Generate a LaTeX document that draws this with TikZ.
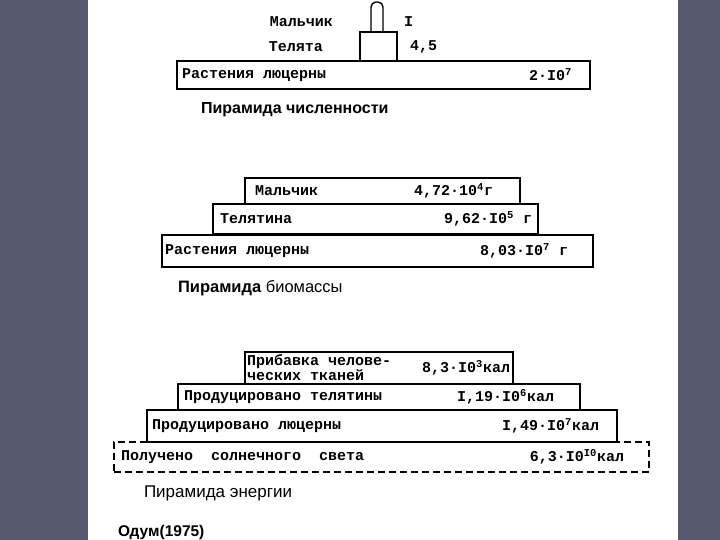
\documentclass[tikz,border=0pt]{standalone}
\usepackage{fontspec}
\setsansfont{Liberation Sans}
\setmonofont{Liberation Mono}
\usetikzlibrary{positioning}
\definecolor{slidebg}{HTML}{565A6E}

\begin{document}
\begin{tikzpicture}[x=1pt,y=-1pt,
  every node/.style={inner sep=0pt,outer sep=0pt},
  layer/.style={draw,line width=1.4pt,anchor=north west},
  tw/.style={font=\fontsize{15}{13}\selectfont\ttfamily\bfseries},
  pcaption/.style={font=\fontsize{16}{18}\selectfont\sffamily,anchor=west}]
\useasboundingbox (0,0) rectangle (720,540);
\fill[slidebg] (0,0) rectangle (720,540);
\fill[white] (88,0) rectangle (678,540);

% pyramid of numbers
\node[minimum width=12pt,minimum height=30pt,anchor=north west] (nboy) at (371,2) {};
\draw[line width=1.4pt,rounded corners=5pt] (nboy.south west) -- (nboy.north west) -- (nboy.north east) -- (nboy.south east);
\node[layer,minimum width=37pt,minimum height=29pt] (ncalf) at (360,32) {};
\node[layer,minimum width=413pt,minimum height=28pt] (nplant) at (177,61) {};
\node[tw,anchor=east] (nboyl) at (333,22) {Мальчик};
\node[tw,anchor=west] (nboyv) at (404,22) {I};
\node[tw,anchor=east] (ncalfl) at (323,47) {Телята};
\node[tw,anchor=west] (ncalfv) at (410,47) {4,5};
\node[tw,right=5pt of nplant.west] (nplantl) {Растения люцерны};
\node[tw,left=18pt of nplant.east] (nplantv) {2·I0\textsuperscript{7}};
\node[pcaption,font=\fontsize{16}{18}\selectfont\sffamily\bfseries] (ncap) at (201,110) {Пирамида численности};

% pyramid of biomass
\node[layer,minimum width=275pt,minimum height=26pt] (bboy) at (245,178) {};
\node[layer,minimum width=325pt,minimum height=30pt] (bcalf) at (213,204) {};
\node[layer,minimum width=431pt,minimum height=32pt] (bplant) at (162,235) {};
\node[tw,right=10pt of bboy.west] (bboyl) {Мальчик};
\node[tw,left=27pt of bboy.east] (bboyv) {4,72·10\textsuperscript{4}г};
\node[tw,right=7pt of bcalf.west] (bcalfl) {Телятина};
\node[tw,left=6pt of bcalf.east] (bcalfv) {9,62·I0\textsuperscript{5} г};
\node[tw,right=3pt of bplant.west] (bplantl) {Растения люцерны};
\node[tw,left=25pt of bplant.east] (bplantv) {8,03·I0\textsuperscript{7} г};
\node[pcaption,font=\fontsize{16.5}{18}\selectfont\sffamily] (bcap) at (178,288) {\bfseries Пирамида \mdseries биомассы};

% pyramid of energy
\node[layer,dash pattern=on 7pt off 4pt,minimum width=535pt,minimum height=30pt] (esun) at (114,442) {};
\node[layer,minimum width=470pt,minimum height=32pt] (eplant) at (147,410) {};
\node[layer,minimum width=402pt,minimum height=26pt] (ecalf) at (178,384) {};
\node[layer,minimum width=268pt,minimum height=32pt] (eboy) at (245,352) {};
\node[tw,font=\fontsize{15}{12.5}\selectfont\ttfamily\bfseries,align=left,right=2pt of eboy.west] (eboyl) {Прибавка челове-\\ческих тканей};
\node[tw,left=3pt of eboy.east] (eboyv) {8,3·I0\textsuperscript{3}кал};
\node[tw,right=6pt of ecalf.west] (ecalfl) {Продуцировано телятины};
\node[tw,left=26pt of ecalf.east] (ecalfv) {I,19·I0\textsuperscript{6}кал};
\node[tw,right=5pt of eplant.west] (eplantl) {Продуцировано люцерны};
\node[tw,left=18pt of eplant.east] (eplantv) {I,49·I0\textsuperscript{7}кал};
\node[tw,right=7pt of esun.west] (esunl) {Получено~~солнечного~~света};
\node[tw,left=25pt of esun.east] (esunv) {6,3·I0\textsuperscript{I0}кал};
\node[pcaption,font=\fontsize{17}{19}\selectfont\sffamily] (ecap) at (144,493) {Пирамида энергии};

\node[pcaption,font=\fontsize{15.5}{18}\selectfont\sffamily\bfseries] (src) at (118,532) {Одум(1975)};
\end{tikzpicture}
\end{document}
